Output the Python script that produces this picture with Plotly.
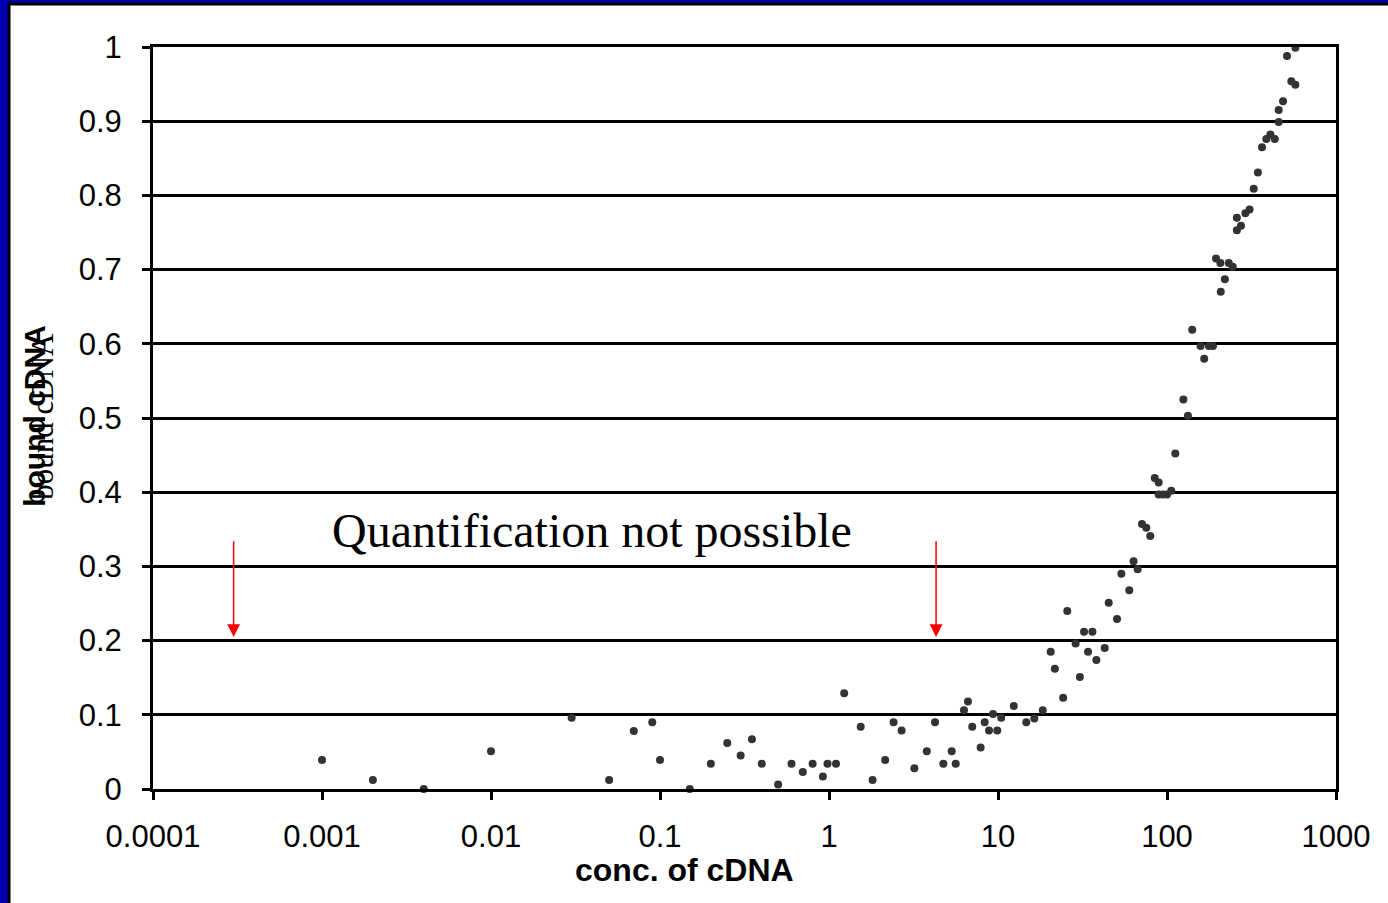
import math
import plotly.graph_objects as go

# concentration of cDNA (x, log scale) and fraction of bound cDNA (y)
conc = [0.001, 0.002, 0.004, 0.01, 0.03, 0.05, 0.07, 0.09, 0.1, 0.15,
        0.2, 0.25, 0.3, 0.35, 0.4, 0.5, 0.6, 0.7, 0.8, 0.92,
        0.98, 1.1, 1.23, 1.54, 1.81, 2.15, 2.41, 2.69, 3.2, 3.79,
        4.24, 4.75, 5.32, 5.62, 6.29, 6.64, 7.04, 7.89, 8.34, 8.85,
        9.34, 9.9, 10.45, 12.4, 14.7, 16.4, 18.4, 20.5, 21.7, 24.3,
        25.7, 28.8, 30.5, 32.3, 34.1, 36.2, 38.2, 42.8, 45.2, 50.6,
        53.7, 59.8, 63.4, 67, 71.1, 75.4, 79.6, 84.6, 89.3, 89.3,
        94.7, 100, 106, 112, 125, 133, 141, 158, 166, 177,
        187, 195, 207, 208, 220, 232, 245, 259, 259, 274,
        291, 308, 326, 345, 365, 387, 409, 434, 458, 458,
        486, 513, 544, 575, 575]
bound = [0.039, 0.012, 0.0, 0.051, 0.096, 0.012, 0.078, 0.090, 0.039, 0.0,
         0.034, 0.062, 0.045, 0.067, 0.034, 0.006, 0.034, 0.023, 0.034, 0.017,
         0.034, 0.034, 0.129, 0.084, 0.012, 0.039, 0.090, 0.079, 0.028, 0.051,
         0.090, 0.034, 0.051, 0.034, 0.106, 0.118, 0.084, 0.056, 0.090, 0.079,
         0.101, 0.079, 0.096, 0.112, 0.090, 0.095, 0.106, 0.185, 0.162, 0.123,
         0.240, 0.196, 0.151, 0.212, 0.185, 0.212, 0.174, 0.190, 0.251, 0.229,
         0.290, 0.268, 0.307, 0.296, 0.357, 0.352, 0.341, 0.419, 0.413, 0.397,
         0.397, 0.397, 0.402, 0.452, 0.525, 0.503, 0.619, 0.597, 0.580, 0.597,
         0.597, 0.715, 0.709, 0.670, 0.687, 0.709, 0.704, 0.753, 0.770, 0.759,
         0.776, 0.781, 0.809, 0.831, 0.865, 0.876, 0.882, 0.876, 0.899, 0.915,
         0.927, 0.988, 0.954, 0.949, 0.999]

x_ticks = [0.0001, 0.001, 0.01, 0.1, 1, 10, 100, 1000]
x_ticktext = ["0.0001", "0.001", "0.01", "0.1", "1", "10", "100", "1000"]
y_ticks = [0, 0.1, 0.2, 0.3, 0.4, 0.5, 0.6, 0.7, 0.8, 0.9, 1]
y_ticktext = ["0", "0.1", "0.2", "0.3", "0.4", "0.5", "0.6", "0.7", "0.8", "0.9", "1"]

# limits of quantification (arrow positions) and arrow span
limit_conc = [0.0003, 4.3]
arrow_top, arrow_tip = 0.336, 0.205

BLUE = "#0000B0"

fig = go.Figure()
fig.add_trace(go.Scatter(
    x=conc, y=bound, mode="markers",
    marker=dict(color="#333333", size=8),
    cliponaxis=False, showlegend=False,
))

# white slide panel over the blue background
fig.add_shape(type="rect", xref="paper", yref="paper",
              x0=-0.1217, x1=1.1, y0=-0.2, y1=1.058,
              fillcolor="white", line=dict(color="black", width=3), layer="below")

annotations = []
for xc in limit_conc:
    lx = math.log10(xc)
    annotations.append(dict(
        x=lx, y=arrow_tip, ax=lx, ay=arrow_top, xref="x", yref="y", axref="x", ayref="y",
        showarrow=True, arrowhead=2, arrowsize=1.7, arrowwidth=1.5, arrowcolor="red",
        standoff=0, text="",
    ))

annotations += [
    dict(text="Quantification not possible", x=0.371, y=0.349, xref="paper", yref="paper",
         showarrow=False, xanchor="center", yanchor="middle",
         font=dict(family="Liberation Serif, Times New Roman, serif", size=48, color="black")),
    dict(text="<b>conc. of cDNA</b>", x=0.449, y=-0.1095, xref="paper", yref="paper",
         showarrow=False, xanchor="center", yanchor="middle",
         font=dict(family="Liberation Sans, Arial, sans-serif", size=32, color="black")),
    dict(text="<b>bound cDNA</b>", x=-0.0997, y=0.503, xref="paper", yref="paper",
         showarrow=False, textangle=-90, xanchor="center", yanchor="middle",
         font=dict(family="Liberation Sans, Arial, sans-serif", size=30, color="black")),
    dict(text="bound cDNA", x=-0.093, y=0.503, xref="paper", yref="paper",
         showarrow=False, textangle=-90, xanchor="center", yanchor="middle",
         font=dict(family="Liberation Serif, Times New Roman, serif", size=31, color="black")),
]

fig.update_layout(
    width=1388, height=903,
    paper_bgcolor=BLUE, plot_bgcolor="white",
    margin=dict(l=153, r=52, t=47, b=114),
    font=dict(family="Liberation Sans, Arial, sans-serif", size=31, color="black"),
    annotations=annotations,
)
fig.update_xaxes(
    type="log", range=[-4, 3], tickvals=x_ticks, ticktext=x_ticktext,
    showgrid=False, zeroline=False, showline=True, linecolor="black", linewidth=3,
    mirror=True, ticks="outside", ticklen=8, tickwidth=3, tickcolor="black",
    tickfont=dict(size=31), ticklabelstandoff=10,
)
fig.update_yaxes(
    range=[0, 1], tickvals=y_ticks, ticktext=y_ticktext,
    showgrid=True, gridcolor="black", gridwidth=3, zeroline=False,
    showline=True, linecolor="black", linewidth=3, mirror=True,
    ticks="outside", ticklen=8, tickwidth=3, tickcolor="black",
    tickfont=dict(size=31), ticklabelstandoff=14,
)

fig.write_html(
    "out.html",
    config={"displayModeBar": False},
    post_script=f"document.body.style.margin='0';document.body.style.overflow='hidden';"
                f"document.body.style.background='{BLUE}';",
)
